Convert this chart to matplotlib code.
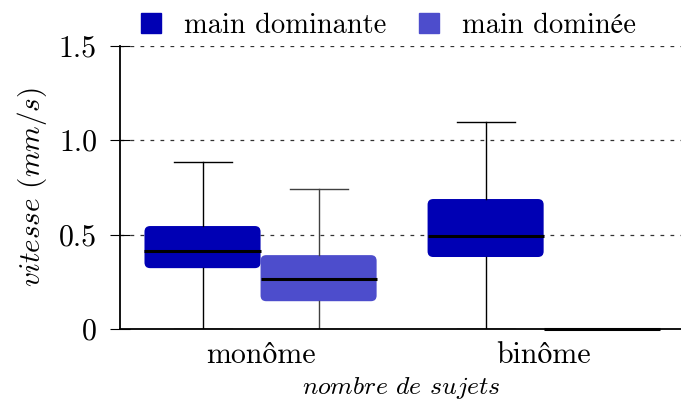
import matplotlib
matplotlib.use("Agg")
import matplotlib.pyplot as plt
from matplotlib.patches import FancyBboxPatch
from matplotlib.lines import Line2D

plt.rcParams['font.family'] = ['cmr10', 'STIXGeneral']
plt.rcParams['mathtext.fontset'] = 'cm'
plt.rcParams['axes.formatter.use_mathtext'] = True

groups = ['monôme', 'binôme']
series = ['main dominante', 'main dominée']
colors = ['#0000b4', '#4d4dcc']
whisker_colors = ['black', '#404040']

# box stats: [whislo, q1, med, q3, whishi]
dominante = [[0.0, 0.323, 0.413, 0.546, 0.885],
             [0.0, 0.382, 0.493, 0.689, 1.097]]
dominee = [[0.0, 0.148, 0.265, 0.392, 0.742],
           [0.0, 0.0, 0.0, 0.0, 0.0]]

width = 0.41
offsets = [-width / 2, width / 2]

fig = plt.figure(figsize=(6.81, 4.13), dpi=100)
ax = fig.add_axes([0.176, 0.203, 0.826, 0.686])

for k, data in enumerate([dominante, dominee]):
	stats = []
	for vals in data:
		lo, q1, med, q3, hi = vals
		stats.append(dict(whislo=lo, q1=q1, med=med, q3=q3, whishi=hi, fliers=[]))
	pos = [i + offsets[k] for i in range(len(groups))]
	wc = whisker_colors[k]
	art = ax.bxp(stats, positions=pos, widths=width, showbox=False, showfliers=False,
		capwidths=width / 2,
		whiskerprops=dict(color=wc, lw=1.0),
		capprops=dict(color=wc, lw=1.0),
		medianprops=dict(color='black', lw=2.2, solid_capstyle='butt', zorder=3))
	for m in art['medians']:
		m.set_clip_on(False)
	for p, vals in zip(pos, data):
		q1, q3 = vals[1], vals[3]
		if q3 - q1 <= 0:
			continue
		box = FancyBboxPatch((p - width / 2, q1), width, q3 - q1,
			boxstyle='round,pad=0,rounding_size=0.02', mutation_aspect=1.5,
			facecolor=colors[k], edgecolor='none', zorder=1.5)
		ax.add_patch(box)

ax.set_xlim(-0.497, 1.49)
ax.set_ylim(0, 1.5)
ax.set_xticks(range(len(groups)))
ax.set_xticklabels(groups)
ax.set_yticks([0, 0.5, 1.0, 1.5])
ax.set_yticklabels(['0', '0.5', '1.0', '1.5'])
ax.tick_params(axis='x', length=0, labelsize=21.5, pad=9)
ax.tick_params(axis='y', direction='inout', length=14, width=0.8, labelsize=21.5, pad=9.5)

for y in [0.5, 1.0, 1.5]:
	ax.axhline(y, color='#333333', lw=0.9, ls=(0, (3, 5)), zorder=0.5)

ax.spines['top'].set_visible(False)
ax.spines['right'].set_visible(False)
ax.spines['left'].set_linewidth(1.3)
ax.spines['bottom'].set_linewidth(1.3)

ax.set_ylabel(r'$\mathit{vitesse}$ $\mathit{(mm/s)}$', fontsize=21, labelpad=7)
ax.set_xlabel(r'$\mathit{nombre}$ $\mathit{de}$ $\mathit{sujets}$', fontsize=18.5, labelpad=4)

handles = [Line2D([], [], marker='s', ls='none', markersize=14, color=c) for c in colors]
ax.legend(handles, series, ncol=2, frameon=False, fontsize=20.5,
	loc='lower left', bbox_to_anchor=(0.01, 0.985), handletextpad=0.65,
	handlelength=1.0, columnspacing=1.0, borderaxespad=0)

fig.savefig('out.png', dpi=100)
